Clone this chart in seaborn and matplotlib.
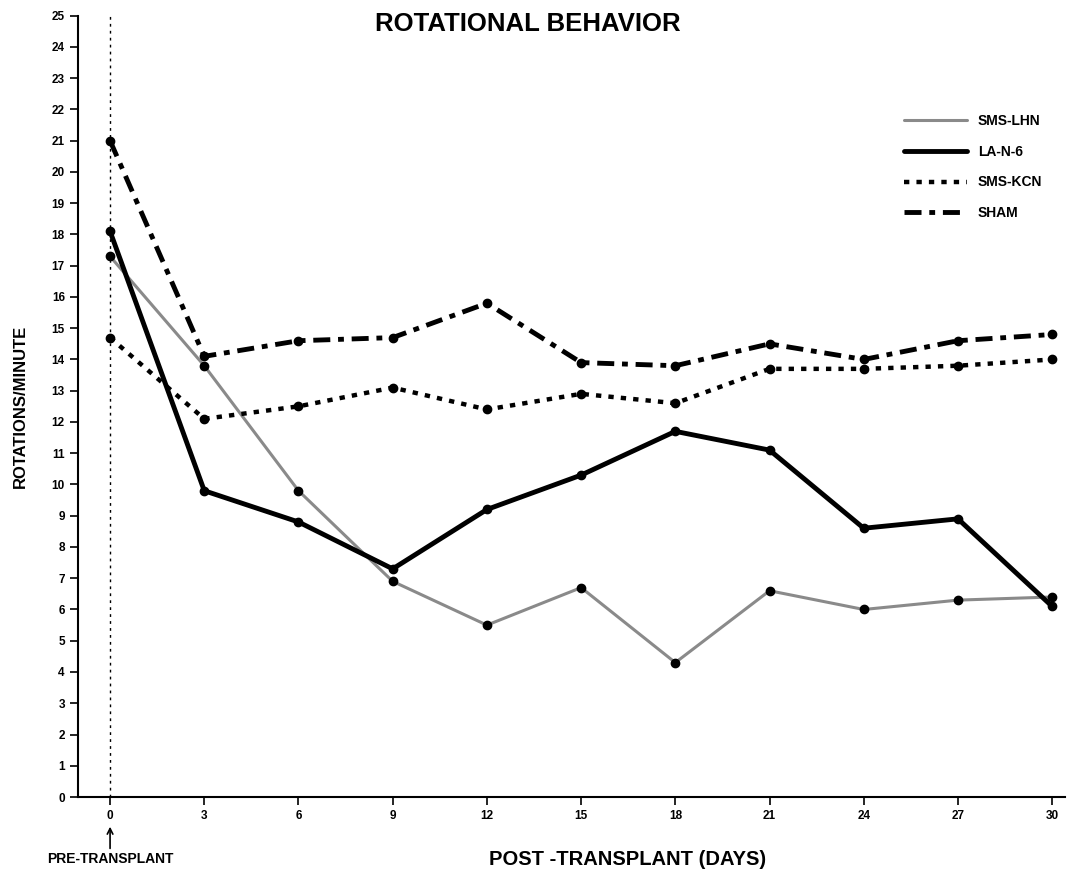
import numpy as np
import pandas as pd
import seaborn as sns
import matplotlib.pyplot as plt

days = [0, 3, 6, 9, 12, 15, 18, 21, 24, 27, 30]
sms_lhn = [17.3, 13.8, 9.8, 6.9, 5.5, 6.7, 4.3, 6.6, 6.0, 6.3, 6.4]
la_n_6 = [18.1, 9.8, 8.8, 7.3, 9.2, 10.3, 11.7, 11.1, 8.6, 8.9, 6.1]
sms_kcn = [14.7, 12.1, 12.5, 13.1, 12.4, 12.9, 12.6, 13.7, 13.7, 13.8, 14.0]
sham = [21.0, 14.1, 14.6, 14.7, 15.8, 13.9, 13.8, 14.5, 14.0, 14.6, 14.8]
groups = ['SMS-LHN', 'LA-N-6', 'SMS-KCN', 'SHAM']

df = pd.DataFrame({'day': days * 4,
                   'rot': sms_lhn + la_n_6 + sms_kcn + sham,
                   'group': np.repeat(groups, len(days))})

sns.set_style('ticks')
plt.rcParams['font.family'] = ['Liberation Sans', 'DejaVu Sans']
plt.rcParams['font.weight'] = 'bold'
for k in ['text.color', 'axes.labelcolor', 'xtick.color', 'ytick.color', 'axes.edgecolor']:
    plt.rcParams[k] = 'black'

fig = plt.figure(figsize=(10.69, 8.72), dpi=100)
ax = fig.add_axes([0.073, 0.086, 0.923, 0.896])

styles = {
    'SMS-LHN': dict(color='#8a8a8a', lw=2.2, ls='-'),
    'LA-N-6': dict(color='black', lw=3.5, ls='-'),
    'SMS-KCN': dict(color='black', lw=3.2, ls=(0, (1.2, 1.6))),
    'SHAM': dict(color='black', lw=3.5, ls=(0, (3.5, 1.6, 1.2, 1.6))),
}

ax.axvline(0, color='black', lw=1, ls=(0, (2, 3)), zorder=1)

for g in groups:
    st = styles[g]
    sub = df[df.group == g]
    sns.lineplot(data=sub, x='day', y='rot', ax=ax,
                 color=st['color'], lw=st['lw'], linestyle=st['ls'],
                 label=g, zorder=3)
    ax.scatter(sub.day, sub.rot, s=36, color='black', zorder=4)

ax.set_xlim(-1.02, 30.4)
ax.set_ylim(0, 25)
ax.set_xticks(days)
ax.set_yticks(range(0, 26))
ax.tick_params(axis='both', labelsize=8.5, width=1.2, length=6, direction='out')
for lbl in ax.get_xticklabels() + ax.get_yticklabels():
    lbl.set_fontweight('bold')
sns.despine(ax=ax)
ax.spines['left'].set_linewidth(1.5)
ax.spines['bottom'].set_linewidth(1.5)

ax.set_xlabel('')
ax.set_ylabel('ROTATIONS/MINUTE', fontsize=12, fontweight='bold', labelpad=17)

ax.legend(loc='upper right', bbox_to_anchor=(0.99, 0.89), frameon=False,
          handlelength=4.5, labelspacing=1.2,
          prop={'weight': 'bold', 'size': 10})

fig.text(0.494, 0.973, 'ROTATIONAL BEHAVIOR', ha='center', va='center',
         fontsize=18.5, fontweight='bold')
fig.text(0.587, 0.014, 'POST -TRANSPLANT (DAYS)', ha='center', va='center',
         fontsize=14.5, fontweight='bold')
ax.annotate('PRE-TRANSPLANT', xy=(0, -0.95), xytext=(0, -1.75),
            xycoords='data', textcoords='data', annotation_clip=False,
            ha='center', va='top', fontsize=10, fontweight='bold',
            arrowprops=dict(arrowstyle='->', color='black', lw=1.2,
                            shrinkA=0, shrinkB=0))

fig.savefig('out.png', dpi=100)
